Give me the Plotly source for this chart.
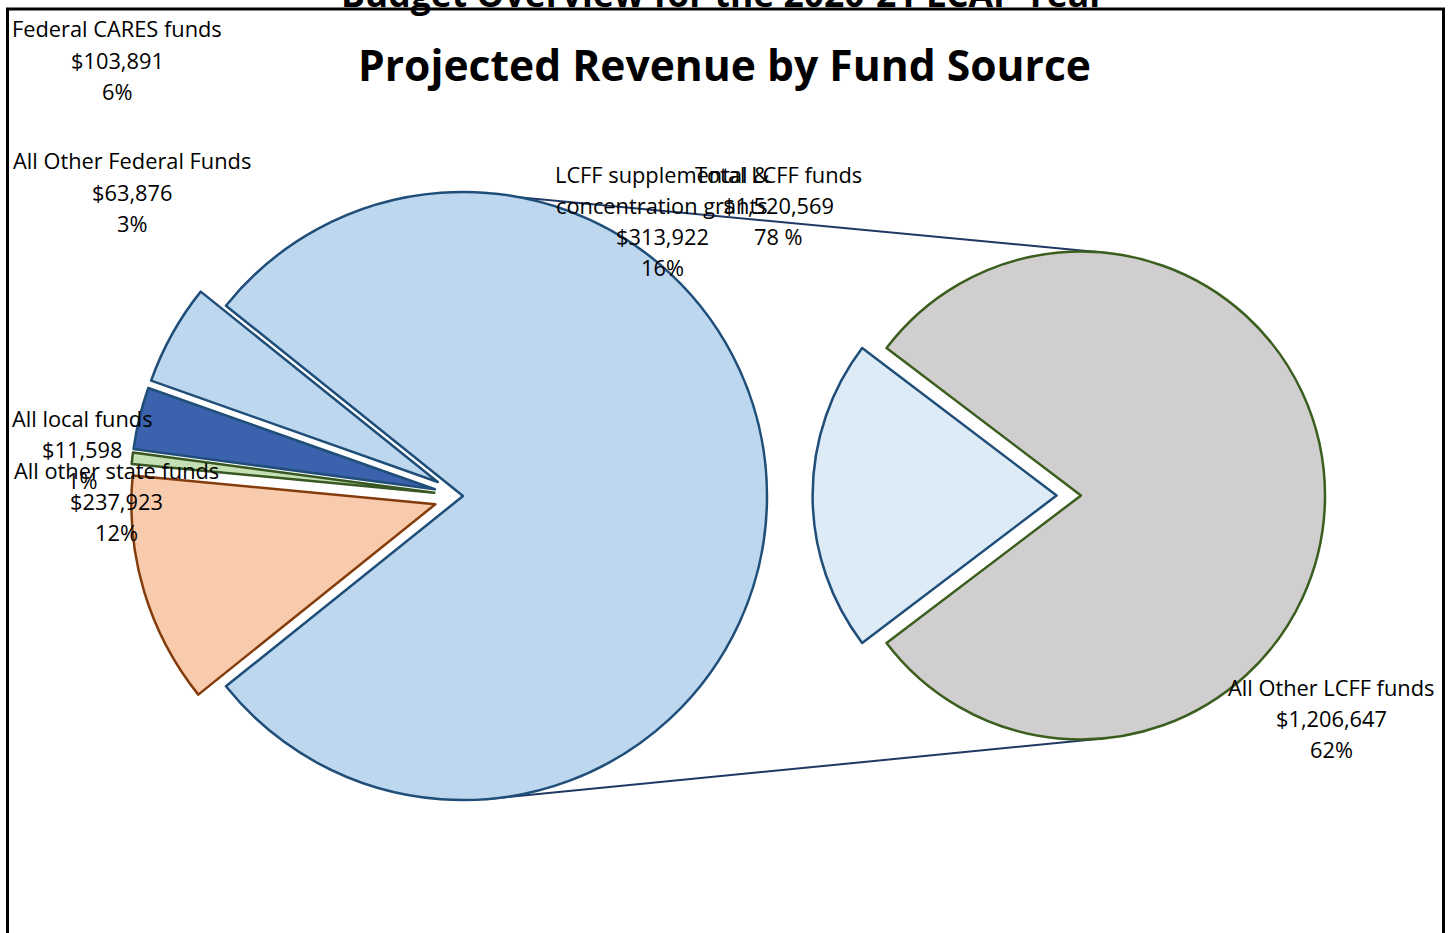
import math
import plotly.graph_objects as go

W, H = 1449, 933

# ---------------- data ----------------
main_labels = ["Total LCFF funds", "All other state funds", "All local funds",
               "All Other Federal Funds", "Federal CARES funds"]
main_values = [1520569, 237923, 11598, 63876, 103891]
main_pct = ["78 %", "12%", "1%", "3%", "6%"]

sec_labels = ["All Other LCFF funds", "LCFF supplemental &\nconcentration grants"]
sec_values = [1206647, 313922]
sec_pct = ["62%", "16%"]

title_text = "Projected Revenue by Fund Source"
top_title_text = "Budget Overview for the 2020-21 LCAP Year"

# ---------------- styling ----------------
main_fill = ["#BDD7EE", "#F8CBAD", "#C5E0B4", "#3B63AD", "#BDD7EE"]
main_line = ["#1F4E79", "#843C0C", "#385723", "#1F4E79", "#1F4E79"]
sec_fill = ["#D0CECE", "#DDEBF7"]
sec_line = ["#3B5E1F", "#1F4E79"]

FONT = "Open Sans"
LABEL_SIZE = 21.8
LINE_GAP = 31.3

# geometry (pixels)
c1x, c1y, r1, pull1 = 463, 496, 304, 0.095
c2x, c2y, r2, pull2 = 1081, 495.5, 244, 0.10


def px(x):
    return x / W


def py(y):
    return 1 - y / H


def domain(cx, cy, r, p):
    half = r * (1 + p)
    return dict(x=[px(cx - half), px(cx + half)], y=[py(cy + half), py(cy - half)])


tot_main = sum(main_values)
ang_main = 360.0 * main_values[0] / tot_main
rot_main = 90 - ang_main / 2

tot_sec = sum(sec_values)
ang_sec = 360.0 * sec_values[1] / tot_sec
rot_sec = ang_sec / 2 - 90

fig = go.Figure()
fig.add_trace(go.Pie(
    labels=main_labels, values=main_values, sort=False, direction="clockwise",
    rotation=rot_main, pull=[0] + [pull1] * 4, textinfo="none",
    marker=dict(colors=main_fill, line=dict(color=main_line, width=2.5)),
    domain=domain(c1x, c1y, r1, pull1), showlegend=False,
))
fig.add_trace(go.Pie(
    labels=[l.replace("\n", " ") for l in sec_labels], values=sec_values, sort=False,
    direction="clockwise", rotation=rot_sec, pull=[0, pull2], textinfo="none",
    marker=dict(colors=sec_fill, line=dict(color=sec_line, width=2.5)),
    domain=domain(c2x, c2y, r2, pull2), showlegend=False,
))

shapes = []
# connector lines
a_top = math.radians(5.6)
a_bot = math.radians(4.5)
shapes.append(dict(type="line", xref="paper", yref="paper", layer="below",
                   x0=px(c1x), y0=py(c1y - r1),
                   x1=px(c2x + r2 * math.sin(a_top)), y1=py(c2y - r2 * math.cos(a_top)),
                   line=dict(color="#1F3864", width=2)))
shapes.append(dict(type="line", xref="paper", yref="paper", layer="below",
                   x0=px(c1x + 30), y0=py(c1y + r1 - 1.5),
                   x1=px(c2x + r2 * math.sin(a_bot)), y1=py(c2y + r2 * math.cos(a_bot)),
                   line=dict(color="#1F3864", width=2)))
# frame
shapes.append(dict(type="rect", xref="paper", yref="paper", layer="above",
                   x0=px(7.5), x1=px(1443.5), y0=py(9), y1=py(945),
                   line=dict(color="black", width=3), fillcolor="rgba(0,0,0,0)"))

annotations = []


def add_label(lines, cx, y_first):
    for i, t in enumerate(lines):
        annotations.append(dict(
            text=t, x=px(cx), y=py(y_first + i * LINE_GAP), xref="paper", yref="paper",
            xanchor="center", yanchor="middle", showarrow=False,
            font=dict(family=FONT, size=LABEL_SIZE, color="black")))


def money(v):
    return "${:,}".format(v)


label_pos_main = {
    "Total LCFF funds": (778, 174),
    "All other state funds": (116, 470),
    "All local funds": (82, 418),
    "All Other Federal Funds": (132, 161),
    "Federal CARES funds": (117, 29),
}
for lab, val, pct in zip(main_labels, main_values, main_pct):
    cx, cy = label_pos_main[lab]
    add_label(lab.split("\n") + [money(val), pct], cx, cy)

label_pos_sec = [(1331, 687), (662, 174)]
for (cx, cy), lab, val, pct in zip(label_pos_sec, sec_labels, sec_values, sec_pct):
    add_label(lab.split("\n") + [money(val), pct], cx, cy)

annotations.append(dict(text="<b>%s</b>" % title_text, x=px(724), y=py(64),
                        xref="paper", yref="paper", xanchor="center", yanchor="middle",
                        showarrow=False, font=dict(family=FONT, size=42.6, color="black")))
annotations.append(dict(text="<b>%s</b>" % top_title_text, x=px(723), y=py(-7),
                        xref="paper", yref="paper", xanchor="center", yanchor="middle",
                        showarrow=False, font=dict(family=FONT, size=35.5, color="black")))

fig.update_layout(
    width=W, height=H, margin=dict(l=0, r=0, t=0, b=0),
    paper_bgcolor="white", plot_bgcolor="white",
    shapes=shapes, annotations=annotations,
)

fig.write_html("out.html", config={"displayModeBar": False},
               post_script="document.body.style.margin='0px';document.body.style.overflow='hidden';")
